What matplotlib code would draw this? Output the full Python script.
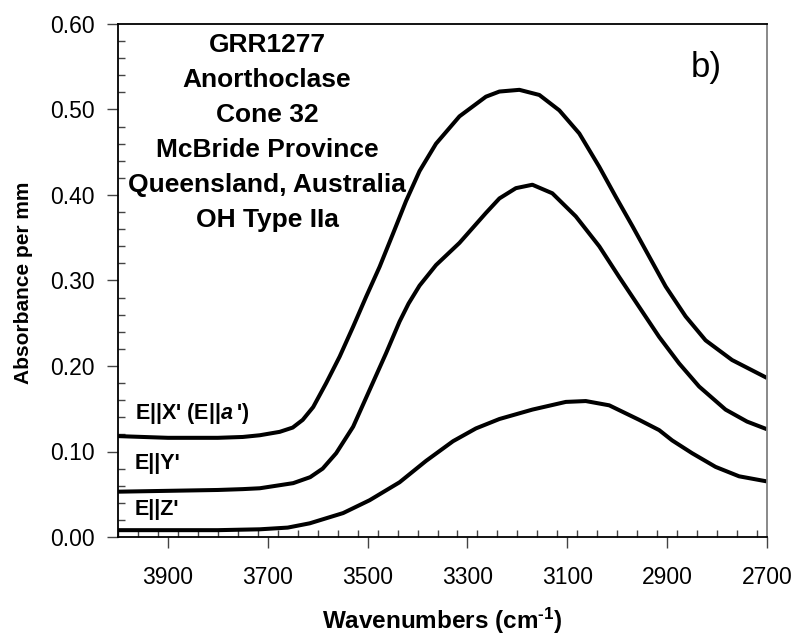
import matplotlib
matplotlib.use("Agg")
import matplotlib.pyplot as plt
from matplotlib.ticker import MultipleLocator, FixedLocator, FormatStrFormatter

plt.rcParams['font.family'] = ['Liberation Sans', 'DejaVu Sans']
plt.rcParams['mathtext.fontset'] = 'custom'
plt.rcParams['mathtext.it'] = 'Liberation Sans:italic:bold'
plt.rcParams['mathtext.rm'] = 'Liberation Sans:bold'
plt.rcParams['mathtext.bf'] = 'Liberation Sans:bold'

# E||X' spectrum
wn_x = [4000, 3950, 3900, 3850, 3800, 3750, 3716, 3676, 3650, 3630, 3609, 3583,
        3556, 3529, 3503, 3476, 3449, 3423, 3396, 3363, 3316, 3263, 3236, 3196,
        3156, 3116, 3076, 3036, 3003, 2969, 2936, 2903, 2863, 2823, 2770, 2700]
abs_x = [0.118, 0.117, 0.116, 0.116, 0.116, 0.117, 0.119, 0.123, 0.128, 0.137,
         0.152, 0.180, 0.211, 0.246, 0.281, 0.316, 0.355, 0.393, 0.428, 0.460,
         0.492, 0.515, 0.521, 0.523, 0.517, 0.499, 0.472, 0.433, 0.398, 0.363,
         0.328, 0.293, 0.258, 0.230, 0.207, 0.186]

# E||Y' spectrum
wn_y = [4000, 3900, 3800, 3750, 3716, 3649, 3615, 3590, 3563, 3529, 3496, 3463,
        3436, 3418, 3396, 3363, 3316, 3263, 3236, 3203, 3170, 3130, 3083, 3036,
        2996, 2956, 2916, 2876, 2836, 2783, 2740, 2700]
abs_y = [0.053, 0.054, 0.055, 0.056, 0.057, 0.063, 0.070, 0.080, 0.098, 0.129,
         0.172, 0.215, 0.252, 0.273, 0.294, 0.318, 0.344, 0.379, 0.396, 0.408,
         0.412, 0.402, 0.375, 0.340, 0.304, 0.269, 0.234, 0.203, 0.176, 0.149,
         0.135, 0.126]

# E||Z' spectrum
wn_z = [4000, 3900, 3800, 3716, 3660, 3616, 3549, 3496, 3436, 3383, 3329, 3283,
        3236, 3170, 3103, 3063, 3016, 2956, 2916, 2890, 2850, 2803, 2756, 2700]
abs_z = [0.008, 0.008, 0.008, 0.009, 0.011, 0.016, 0.028, 0.043, 0.064, 0.089,
         0.112, 0.127, 0.138, 0.149, 0.158, 0.159, 0.154, 0.137, 0.125, 0.113,
         0.098, 0.082, 0.071, 0.065]

series_labels = ["E||X' (E||$\\mathit{a}$\u2009')", "E||Y'", "E||Z'"]
info_lines = ["GRR1277", "Anorthoclase", "Cone 32", "McBride Province",
              "Queensland, Australia", "OH Type IIa"]
x_ticks = [3900, 3700, 3500, 3300, 3100, 2900, 2700]

W, H = 797, 638
fig = plt.figure(figsize=(W / 100, H / 100), dpi=100)
L, R, T, B = 118, 767, 24, 537
ax = fig.add_axes([L / W, 1 - B / H, (R - L) / W, (B - T) / H])

for xs, ys in ((wn_x, abs_x), (wn_y, abs_y), (wn_z, abs_z)):
    ax.plot(xs, ys, color='black', lw=2.9, solid_joinstyle='round',
            solid_capstyle='butt')

ax.set_xlim(4000, 2700)
ax.set_ylim(0, 0.60)

ax.xaxis.set_major_locator(FixedLocator(x_ticks))
ax.xaxis.set_minor_locator(MultipleLocator(40))
ax.yaxis.set_major_locator(MultipleLocator(0.10))
ax.yaxis.set_minor_locator(MultipleLocator(0.02))
ax.yaxis.set_major_formatter(FormatStrFormatter('%.2f'))

ax.tick_params(axis='both', which='major', direction='out', length=8, width=1.0,
               labelsize=16.5, color='#444444')
ax.tick_params(axis='x', which='major', pad=13)
ax.tick_params(axis='y', which='major', pad=9)
ax.tick_params(axis='both', which='minor', direction='in', length=5, width=1.0,
               color='#444444')

for s in ('left', 'bottom', 'top'):
    ax.spines[s].set_linewidth(1.3)
    ax.spines[s].set_color('black')
ax.spines['right'].set_color('#808080')
ax.spines['right'].set_linewidth(1.3)

ax.set_xlabel("Wavenumbers (cm$^{\\text{-}1}$)", fontsize=17.5, fontweight='bold')
ax.set_ylabel("Absorbance per mm", fontsize=15, fontweight='bold')
ax.xaxis.set_label_coords(0.5, -0.135)
ax.yaxis.set_label_coords(-0.131, 0.495)

def px(x, y):
    return x / W, 1 - y / H

for i, line in enumerate(info_lines):
    fig.text(*px(267, 45 + 35 * i), line, ha='center', va='center',
             fontsize=19, fontweight='bold')

fig.text(*px(706, 68), "b)", ha='center', va='center', fontsize=25)

for lbl, yy in zip(series_labels, (413, 463, 509)):
    fig.text(*px(135, yy), lbl, ha='left', va='center', fontsize=15.5,
             fontweight='bold')

fig.savefig("out.png", dpi=100)
